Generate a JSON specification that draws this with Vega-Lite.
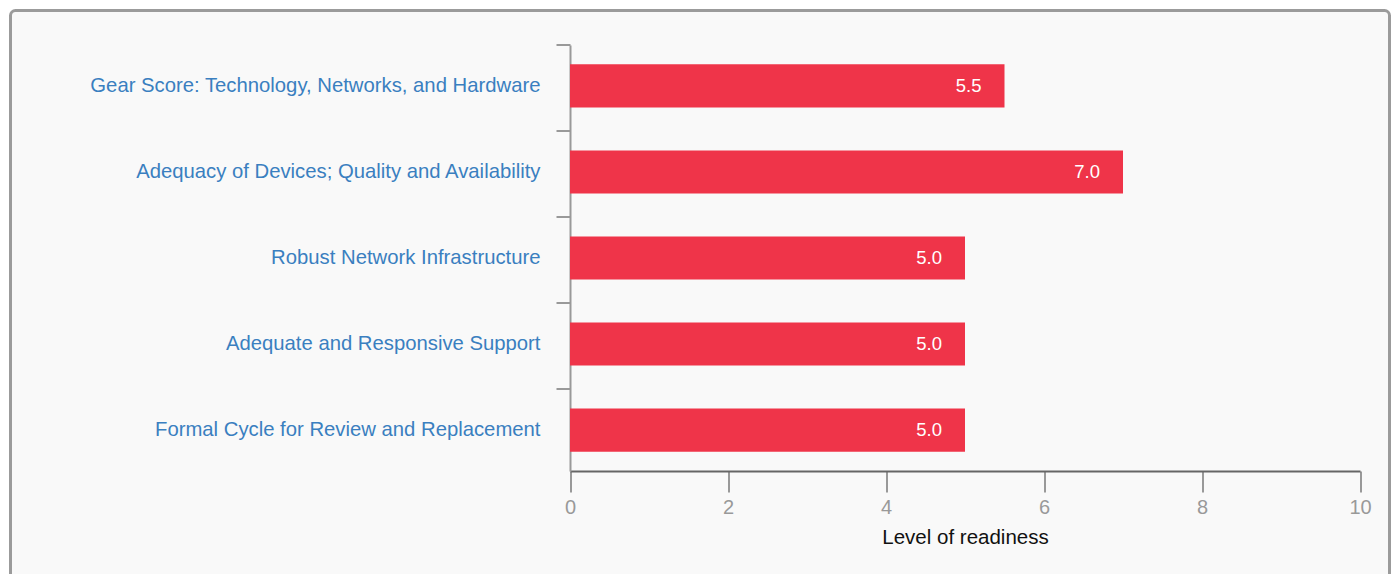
{
  "$schema": "https://vega.github.io/schema/vega-lite/v6.json",
  "width": 1379,
  "height": 583.5,
  "autosize": {"type": "none"},
  "padding": {"left": 10.5, "top": 10.5, "right": 4.5, "bottom": -20},
  "background": "white",
  "view": {"fill": "#f9f9f9", "stroke": "#9b9b9b", "strokeWidth": 3, "cornerRadius": 5},
  "config": {"font": "Liberation Sans"},
  "data": {
    "values": [
      {"category": "Gear Score: Technology, Networks, and Hardware", "score": 5.5},
      {"category": "Adequacy of Devices; Quality and Availability", "score": 7.0},
      {"category": "Robust Network Infrastructure", "score": 5.0},
      {"category": "Adequate and Responsive Support", "score": 5.0},
      {"category": "Formal Cycle for Review and Replacement", "score": 5.0}
    ]
  },
  "encoding": {
    "y": {
      "field": "category",
      "type": "nominal",
      "sort": null,
      "scale": {"range": [34.5, 460.5], "paddingInner": 0.5, "paddingOuter": 0.225},
      "axis": {
        "orient": "left",
        "offset": -559.5,
        "title": null,
        "domainColor": "#999999",
        "domainWidth": 2,
        "tickColor": "#999999",
        "tickWidth": 2,
        "tickSize": 14,
        "bandPosition": -0.45,
        "labelPadding": 16,
        "labelColor": "#3a7fc0",
        "labelFontSize": 20.3,
        "labelLimit": 0,
        "labelFont": "Liberation Sans"
      }
    },
    "x": {
      "field": "score",
      "type": "quantitative",
      "scale": {"domain": [0, 10], "range": [559.5, 1349.5], "nice": false},
      "axis": {
        "orient": "bottom",
        "offset": -123,
        "values": [0, 2, 4, 6, 8, 10],
        "grid": false,
        "domainColor": "#666666",
        "domainWidth": 2,
        "tickColor": "#999999",
        "tickWidth": 2,
        "tickSize": 21,
        "labelColor": "#999999",
        "labelFontSize": 20,
        "labelPadding": 5,
        "labelFlush": false,
        "labelFont": "Liberation Sans",
        "title": "Level of readiness",
        "titleColor": "#111111",
        "titleFontSize": 20.5,
        "titleFontWeight": "normal",
        "titleFont": "Liberation Sans",
        "titlePadding": 10
      }
    }
  },
  "layer": [
    {"mark": {"type": "bar", "color": "#ef3449"}},
    {
      "mark": {"type": "text", "align": "right", "baseline": "middle", "dx": -23, "color": "#ffffff", "fontSize": 18.5, "font": "Liberation Sans"},
      "encoding": {"text": {"field": "score", "type": "quantitative", "format": ".1f"}}
    }
  ]
}
